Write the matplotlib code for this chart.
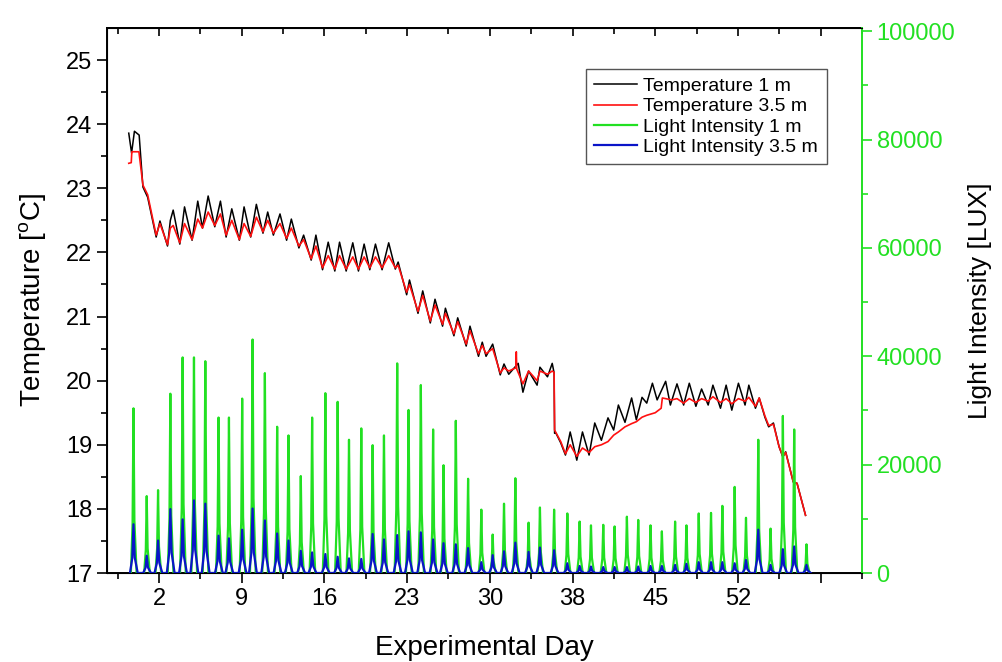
import matplotlib.pyplot as plt
import numpy as np

plt.rcParams['font.family'] = ['Liberation Sans', 'DejaVu Sans']

# temperature at 1 m, vertices (day, degC)
t1_day = [-0.56, -0.32, -0.08, 0.32, 0.64, 1.04, 1.76, 2.08, 2.72, 2.96, 3.2, 3.76, 4.16, 4.8,
          5.28, 5.68, 6.16, 6.72, 7.2, 7.68, 8.16, 8.8, 9.2, 9.76, 10.24, 10.8, 11.2, 11.68,
          12.24, 12.8, 13.2, 13.84, 14.24, 14.88, 15.28, 15.84, 16.32, 16.88, 17.28, 17.84,
          18.4, 18.88, 19.36, 19.84, 20.32, 20.88, 21.44, 22.0, 22.24, 22.96, 23.2, 23.92,
          24.32, 24.96, 25.36, 26.0, 26.24, 26.96, 27.28, 28.0, 28.32, 29.04, 29.36, 29.68,
          30.24, 30.88, 31.2, 31.6, 32.4, 32.8, 33.28, 34.0, 34.24, 34.88, 35.28, 35.44,
          35.48, 35.6, 36.0, 36.4, 36.8, 37.36, 37.84, 38.4, 38.88, 39.44, 40.0, 40.48,
          40.88, 41.44, 42.0, 42.4, 42.88, 43.28, 43.76, 44.16, 44.88, 45.28, 45.84, 46.4,
          46.88, 47.44, 47.92, 48.48, 48.88, 49.52, 50.0, 50.48, 51.04, 51.6, 51.92, 52.48,
          52.8, 53.28, 53.6, 54.0, 54.48, 54.8, 55.04, 55.68, 56.0, 56.72]
t1_val = [23.86, 23.55, 23.89, 23.83, 23.02, 22.86, 22.24, 22.49, 22.10, 22.50, 22.66, 22.13,
          22.71, 22.19, 22.80, 22.38, 22.88, 22.40, 22.80, 22.24, 22.68, 22.19, 22.71, 22.24,
          22.75, 22.30, 22.63, 22.27, 22.60, 22.19, 22.52, 22.07, 22.27, 21.88, 22.27, 21.73,
          22.16, 21.71, 22.16, 21.71, 22.15, 21.71, 22.13, 21.73, 22.13, 21.73, 22.15, 21.74,
          21.85, 21.34, 21.57, 21.05, 21.40, 20.90, 21.27, 20.85, 21.13, 20.70, 20.98, 20.54,
          20.85, 20.38, 20.60, 20.38, 20.57, 20.09, 20.26, 20.10, 20.27, 19.82, 20.15, 19.93,
          20.21, 20.06, 20.27, 20.12, 19.18, 19.18, 19.03, 18.84, 19.20, 18.76, 19.20, 18.84,
          19.34, 19.07, 19.42, 19.23, 19.62, 19.35, 19.73, 19.39, 19.74, 19.65, 19.96, 19.70,
          19.99, 19.62, 19.95, 19.62, 19.96, 19.60, 19.87, 19.62, 19.93, 19.57, 19.93, 19.54,
          19.96, 19.62, 19.93, 19.57, 19.73, 19.43, 19.28, 19.34, 18.97, 18.81, 18.89, 18.42,
          18.40, 17.90]

# temperature at 3.5 m
t35_day = [-0.56, -0.35, -0.3, 0.3, 0.64, 1.04, 1.76, 2.08, 2.72, 2.96, 3.2, 3.76, 4.16, 4.8,
           5.28, 5.68, 6.16, 6.72, 7.2, 7.68, 8.16, 8.8, 9.2, 9.76, 10.24, 10.8, 11.2, 11.68,
           12.24, 12.8, 13.2, 13.84, 14.24, 14.88, 15.28, 15.84, 16.32, 16.88, 17.28, 17.84,
           18.4, 18.88, 19.36, 19.84, 20.32, 20.88, 21.44, 22.0, 22.24, 22.96, 23.2, 23.92,
           24.32, 24.96, 25.36, 26.0, 26.24, 26.96, 27.28, 28.0, 28.32, 29.04, 29.36, 29.68,
           30.24, 30.88, 31.2, 31.6, 32.2, 32.24, 32.28, 32.8, 33.28, 34.0, 34.24, 34.88,
           35.28, 35.44, 35.48, 36.0, 36.4, 36.8, 37.36, 37.84, 38.4, 38.88, 39.44, 40.0,
           40.48, 40.88, 41.44, 42.0, 42.4, 42.88, 43.28, 44.0, 44.5, 44.6, 45.4, 45.84, 46.4,
           46.88, 47.44, 47.92, 48.48, 48.88, 49.52, 50.0, 50.48, 51.04, 51.6, 51.92, 52.48,
           52.8, 53.28, 53.6, 54.0, 54.48, 54.8, 55.04, 55.68, 56.0, 56.72]
t35_val = [23.39, 23.40, 23.57, 23.57, 23.05, 22.90, 22.27, 22.45, 22.12, 22.38, 22.42, 22.15,
           22.45, 22.20, 22.52, 22.38, 22.63, 22.42, 22.60, 22.27, 22.50, 22.20, 22.45, 22.25,
           22.55, 22.32, 22.50, 22.30, 22.45, 22.22, 22.38, 22.10, 22.20, 21.90, 22.10, 21.76,
           21.95, 21.74, 21.95, 21.74, 21.93, 21.74, 21.93, 21.76, 21.93, 21.76, 21.95, 21.76,
           21.80, 21.38, 21.50, 21.08, 21.33, 20.93, 21.18, 20.88, 21.05, 20.73, 20.92, 20.57,
           20.78, 20.42, 20.55, 20.42, 20.50, 20.12, 20.20, 20.15, 20.20, 20.45, 20.18, 19.95,
           20.15, 20.00, 20.15, 20.10, 20.15, 20.13, 19.23, 19.05, 18.86, 19.00, 18.82, 18.95,
           18.88, 18.97, 19.00, 19.05, 19.15, 19.20, 19.28, 19.33, 19.36, 19.43, 19.46, 19.50,
           19.57, 19.73, 19.70, 19.72, 19.65, 19.72, 19.66, 19.72, 19.68, 19.75, 19.66, 19.72,
           19.64, 19.72, 19.68, 19.74, 19.60, 19.73, 19.45, 19.30, 19.32, 18.97, 18.82, 18.88,
           18.42, 18.40, 17.90]

# daily light peaks (day of peak, lux)
light_day = [-0.16, 0.96, 1.92, 2.96, 4.0, 4.96, 5.92, 7.04, 7.92, 9.04, 9.92, 10.96, 12.0,
             12.96, 14.0, 14.96, 16.08, 17.12, 18.08, 19.12, 20.08, 21.04, 22.16, 23.12,
             24.16, 25.2, 26.08, 27.12, 28.16, 29.28, 30.24, 31.2, 32.16, 33.28, 34.24, 35.44,
             36.56, 37.6, 38.56, 39.6, 40.56, 41.6, 42.56, 43.6, 44.56, 45.68, 46.64, 47.68,
             48.72, 49.68, 50.72, 51.68, 52.72, 53.76, 54.8, 55.76, 56.8]
light1_peak = [30400, 14200, 15300, 33100, 39800, 39800, 39100, 28700, 28700, 32200, 43100,
               36900, 27000, 25400, 17900, 28700, 33200, 31600, 24600, 26700, 23600, 25400,
               38700, 30100, 34700, 26500, 19900, 28100, 17400, 11700, 7100, 12800, 17500,
               9300, 12100, 11700, 11000, 9500, 8800, 8900, 8600, 10400, 9800, 8800, 7700,
               9500, 8800, 11000, 11100, 12400, 15900, 10200, 24600, 8200, 29000, 26500, 5300]
light35_peak = [9000, 3200, 6000, 11800, 9900, 13400, 12800, 6900, 6400, 8000, 11900, 9700,
                7300, 6000, 4100, 3800, 3500, 3000, 2700, 2600, 7200, 6200, 7000, 7700, 7500,
                6200, 5500, 5300, 4600, 2000, 3300, 4000, 5600, 3900, 4700, 4200, 1800, 1300,
                1200, 1100, 1100, 1100, 1200, 1300, 1300, 1500, 1700, 2000, 2000, 2000, 1800,
                2400, 8000, 1500, 4400, 4900, 1500]

tick_pos = [2, 9, 16, 23, 30, 37, 44, 51, 58]
tick_lab = ['2', '9', '16', '23', '30', '38', '45', '52', '']

GREEN = '#22e022'


def spikes(days, peaks, w):
    xs, ys = [], []
    for d, p in zip(days, peaks):
        xs += [d - w, d - w * 0.35, d, d + w * 0.35, d + w * 1.2]
        ys += [0, p * 0.3, p, p * 0.32, 0]
    return xs, ys


fig = plt.figure(figsize=(10.02, 6.62), dpi=100)
ax = fig.add_axes([0.1068, 0.1344, 0.7535, 0.8233])
ax2 = ax.twinx()

l1, = ax.plot(t1_day, t1_val, color='black', lw=1.1, label='Temperature 1 m')
l2, = ax.plot(t35_day, t35_val, color='#ff1010', lw=1.2, label='Temperature 3.5 m')

gx, gy = spikes(light_day, light1_peak, 0.22)
bx, by = spikes(light_day, light35_peak, 0.3)
l3, = ax2.plot(gx, gy, color=GREEN, lw=1.6, label='Light Intensity 1 m')
l4, = ax2.plot(bx, by, color='#0a14c8', lw=1.6, label='Light Intensity 3.5 m')

ax.set_xlim(-2.4, 58)
ax.set_ylim(17, 25.5)
ax2.set_ylim(0, 100600)

ax.set_xticks(tick_pos)
ax.set_xticklabels(tick_lab)
ax.set_xticks([p - 3.5 for p in tick_pos] + [tick_pos[-1] + 3.5], minor=True)
ax.set_yticks(range(17, 26))
ax.set_yticks(np.arange(17.5, 25.5, 1.0), minor=True)
ax2.set_yticks(range(0, 100001, 20000))
ax2.set_yticks(range(10000, 100000, 20000), minor=True)

ax.tick_params(axis='both', which='major', labelsize=17, length=7, width=1.2, direction='out')
ax.tick_params(axis='both', which='minor', length=4, width=1.2, direction='out')
ax2.tick_params(axis='y', which='major', labelsize=17, length=7, width=1.2,
                colors=GREEN, direction='out')
ax2.tick_params(axis='y', which='minor', length=4, width=1.2, colors=GREEN, direction='out')

top = ax.secondary_xaxis('top')
top.set_xticks(tick_pos)
top.set_xticklabels([])
top.set_xticks(ax.get_xticks(minor=True), minor=True)
top.tick_params(which='major', direction='in', length=6, width=1.2)
top.tick_params(which='minor', direction='in', length=4, width=1.2)
top.spines['top'].set_linewidth(1.4)

for s in ['left', 'bottom', 'top']:
    ax.spines[s].set_linewidth(1.4)
ax2.spines['right'].set_color(GREEN)
ax2.spines['right'].set_linewidth(1.4)
ax.spines['right'].set_visible(False)

ax.set_xlabel('Experimental Day', fontsize=20, labelpad=18)
ax.set_ylabel('Temperature [$^{\\mathregular{o}}$C]', fontsize=20, labelpad=12)
ax2.set_ylabel('Light Intensity [LUX]', fontsize=19, labelpad=9)

leg = ax2.legend(handles=[l1, l2, l3, l4], loc='upper right', bbox_to_anchor=(0.953, 0.925),
                 borderaxespad=0, fontsize=14, handlelength=2.2, handletextpad=0.3,
                 labelspacing=0.13, borderpad=0.45, fancybox=False, framealpha=1,
                 edgecolor='#555555')
leg.get_frame().set_linewidth(1.0)

fig.savefig('out.png', dpi=100)
